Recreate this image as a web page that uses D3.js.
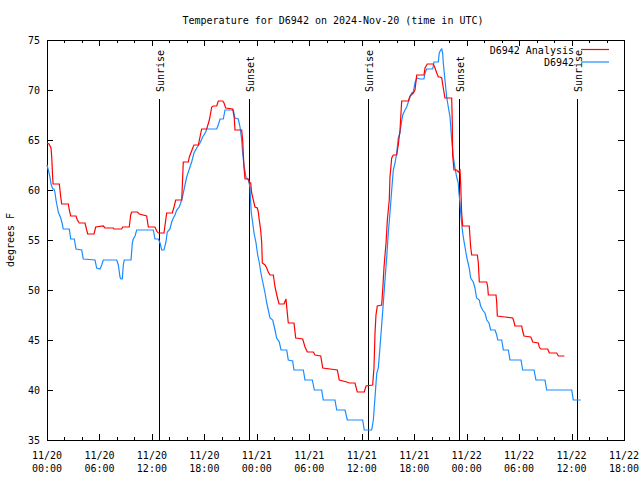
<!DOCTYPE html>
<html>
<head>
<meta charset="utf-8">
<script src="https://cdn.jsdelivr.net/npm/d3@7"></script>
<style>
  html, body { margin: 0; padding: 0; background: #fff; }
  svg { display: block; }
  text { font-family: "DejaVu Sans Mono", "Liberation Mono", monospace; font-size: 10px; fill: #000; }
</style>
</head>
<body>
<svg id="chart" width="640" height="480"></svg>
<script>
// ---- DATA (hours since 2024-11-20 00:00 UTC, temperature in °F) ----
const titleText = "Temperature for D6942 on 2024-Nov-20 (time in UTC)";
const yLabel = "degrees F";
const seriesNames = ["D6942 Analysis", "D6942"];
const yTicks = [35, 40, 45, 50, 55, 60, 65, 70, 75];

const analysisHours = [0,0.23,0.46,0.54,0.65,0.7,1.41,1.57,1.68,2.44,2.55,2.71,3.32,3.47,3.69,4.35,4.54,4.66,5.38,5.57,6.44,6.63,7.58,7.66,8.54,8.66,9.41,9.57,9.69,10.33,10.56,11.40,11.59,12.35,12.55,12.73,13.38,13.58,13.69,14.33,14.53,14.72,15.41,15.59,16.16,16.28,16.67,16.81,17.31,17.50,17.69,18.27,18.57,18.84,19.02,19.41,19.59,20.10,20.25,20.44,21.24,21.42,21.50,22.27,22.38,22.53,22.65,23.03,23.14,23.30,23.41,23.60,23.79,24.06,24.17,24.28,24.44,24.56,24.63,24.94,25.13,25.31,25.51,25.89,26.08,26.34,26.54,27.11,27.34,27.42,27.60,28.25,28.45,29.25,29.51,29.78,30.46,30.66,31.31,31.54,33.21,33.43,34.28,34.58,35.23,35.49,36.29,36.49,37.25,37.40,37.52,37.63,37.78,38.28,38.40,38.55,38.78,38.93,39.15,39.23,39.43,39.61,40.00,40.18,40.38,40.57,41.33,41.52,41.90,42.09,42.29,43.12,43.24,43.50,44.19,44.38,44.58,44.76,44.95,45.15,45.33,45.52,46.29,46.36,46.40,46.55,46.86,47.04,47.24,47.32,47.43,47.55,48.30,48.46,48.58,49.22,49.33,49.45,50.30,50.41,50.48,51.36,51.44,51.51,52.39,53.27,53.42,53.53,54.30,54.41,54.56,55.33,55.44,55.56,56.20,56.31,56.47,57.27,57.46,58.30,58.49,59.18];
const analysisTemps = [64.7,64.6,64.2,63.3,61.2,60.6,60.6,59.3,58.6,58.6,58.0,57.4,57.4,57.0,56.7,56.7,56.0,55.6,55.6,56.3,56.4,56.2,56.2,56.1,56.1,56.3,56.3,57.5,57.8,57.8,57.6,57.4,56.3,56.3,55.9,55.7,55.7,57.0,57.7,57.7,58.3,59.0,59.0,62.8,62.8,63.3,64.2,64.5,64.5,65.3,66.1,66.1,67.0,68.3,68.4,68.4,68.9,68.9,68.7,68.2,68.1,67.2,66.0,66.0,65.0,62.3,61.1,61.1,60.8,60.7,59.7,59.0,58.3,58.2,57.8,57.0,56.0,54.7,52.7,52.5,52.2,51.8,51.5,51.5,50.3,49.3,48.6,48.6,49.1,48.3,46.7,46.7,45.2,45.1,44.3,43.8,43.8,43.5,43.4,42.2,42.0,41.0,40.8,40.7,40.7,39.8,39.8,40.4,40.5,42.2,45.7,47.5,48.4,48.5,50.0,52.3,54.7,57.0,59.0,61.3,63.2,63.5,63.5,64.5,66.0,68.9,68.9,69.4,69.7,70.0,71.5,71.5,72.2,72.6,72.6,72.2,71.7,71.3,71.3,71.2,70.2,69.2,69.2,66.7,63.5,62.0,62.0,61.8,62.0,60.6,57.7,56.4,56.4,54.3,53.5,53.5,52.8,50.8,50.8,50.3,49.5,49.5,48.8,47.4,47.3,47.2,46.8,46.4,46.4,45.9,45.4,45.3,45.1,44.8,44.7,44.3,44.1,44.1,43.7,43.7,43.4,43.4];

const obsHours = [0,0.15,0.34,0.46,0.65,0.80,0.92,1.03,1.18,1.29,1.57,1.72,1.86,2.55,2.71,3.12,3.32,3.97,4.15,5.49,5.68,6.06,6.26,6.44,7.97,8.16,8.35,8.46,8.61,8.73,8.84,9.61,9.76,9.87,10.07,10.26,12.16,12.35,12.73,12.93,13.12,13.38,13.61,13.76,14.07,14.26,14.45,14.64,14.84,15.13,15.41,15.59,15.98,16.28,16.55,16.81,17.12,17.50,17.81,18.15,18.27,19.41,19.59,19.79,20.17,20.36,21.31,21.50,21.88,22.08,22.27,22.38,22.53,22.76,23.03,23.22,23.30,23.37,23.53,23.68,23.91,24.10,24.29,24.45,24.56,24.75,24.94,25.13,25.31,25.51,25.82,26.08,26.27,26.57,26.77,27.42,27.60,28.10,28.25,29.32,29.51,30.35,30.58,31.42,31.60,32.94,33.14,34.09,34.35,36.11,36.29,37.14,37.33,37.52,37.72,37.90,38.09,38.28,38.47,38.66,38.86,39.04,39.23,39.43,39.61,39.81,40.00,40.18,40.38,40.46,40.69,40.95,41.14,41.33,41.52,41.72,41.90,42.09,42.29,42.67,43.12,43.24,43.43,44.12,44.27,44.76,44.87,45.03,45.15,45.26,45.33,45.52,45.72,45.90,46.10,46.29,46.48,46.67,46.86,47.04,47.12,47.24,47.32,47.43,47.55,47.73,47.93,48.08,48.30,48.46,48.76,48.95,49.14,49.45,49.60,49.83,50.10,50.30,50.56,50.75,51.25,51.44,51.56,52.01,52.20,52.77,52.96,54.22,54.41,55.71,55.93,56.96,57.16,60.02,60.20,61.05];
const obsTemps = [62.5,62.0,61.3,60.6,60.1,60.1,59.7,59.0,58.3,57.8,57.2,56.7,56.1,56.1,55.1,55.1,54.1,54.0,53.1,53.0,52.2,52.1,52.5,53.0,53.0,52.5,51.3,51.1,51.1,52.5,53.0,53.0,54.7,55.1,55.4,56.0,56.0,55.1,55.1,54.7,54.0,54.0,54.8,55.8,56.1,56.8,57.2,57.5,58.0,58.3,59.0,59.7,61.3,62.1,62.8,63.7,64.2,64.7,65.3,65.8,66.1,66.1,66.5,67.1,67.1,68.0,68.0,67.2,67.1,66.3,65.0,63.7,62.5,61.3,61.0,60.3,58.7,57.7,56.7,55.7,54.7,53.5,52.7,51.8,51.3,50.5,49.7,48.7,48.0,47.2,47.0,46.0,45.2,44.8,44.0,44.0,43.0,42.9,42.0,42.0,41.0,41.0,40.0,40.0,39.0,39.0,38.0,38.0,37.0,37.0,36.0,36.0,37.0,39.3,41.7,42.2,44.3,46.5,48.7,51.0,53.3,55.7,57.7,60.0,62.0,62.7,63.7,65.2,65.7,66.3,67.5,68.0,68.3,68.8,69.3,69.7,69.8,70.7,71.2,71.1,71.1,71.7,72.1,72.1,72.8,72.8,73.7,74.0,74.1,73.7,72.7,71.0,69.3,68.3,67.3,65.0,63.3,62.2,61.3,60.7,59.7,58.7,57.7,56.7,55.7,54.7,53.7,53.0,52.2,51.2,50.8,50.2,49.2,49.0,48.4,48.0,47.7,47.0,46.7,46.0,46.0,45.5,45.0,45.0,44.0,44.0,43.0,43.0,42.0,42.0,41.0,41.0,40.0,40.0,39.0,39.0];

const sunLabels = ["Sunrise", "Sunset", "Sunrise", "Sunset", "Sunrise"];
const sunHours = [12.85, 23.14, 36.75, 47.09, 60.66];

// ---- CHART ----
const start = Date.UTC(2024, 10, 20, 0, 0);
const toDate = h => new Date(start + h * 3600e3);
const margin = { left: 47, right: 624, top: 40, bottom: 440 };
const svg = d3.select("#chart");

const x = d3.scaleUtc().domain([toDate(0), toDate(66)]).range([margin.left, margin.right]);
const y = d3.scaleLinear().domain([35, 75]).range([margin.bottom, margin.top]);

// title
svg.append("text").attr("x", 333).attr("y", 24).attr("text-anchor", "middle").text(titleText);

// y label
svg.append("text").attr("transform", "translate(14,240) rotate(-90)").attr("text-anchor", "middle").text(yLabel);

const g = svg.append("g").attr("shape-rendering", "crispEdges");

// ticks
const majorTicks = x.ticks(d3.utcHour.every(6));
const minorTicks = d3.utcHour.every(2).range(toDate(0), toDate(66.01)).filter(d => d.getUTCHours() % 6 !== 0);

function tickLines(vals, len) {
  vals.forEach(d => {
    const xx = Math.round(x(d)) + 0.5;
    g.append("line").attr("x1", xx).attr("x2", xx).attr("y1", margin.bottom).attr("y2", margin.bottom - len).attr("stroke", "#000");
    g.append("line").attr("x1", xx).attr("x2", xx).attr("y1", margin.top).attr("y2", margin.top + len).attr("stroke", "#000");
  });
}
tickLines(majorTicks, 6);
tickLines(minorTicks, 3);

yTicks.forEach(v => {
  const yy = Math.round(y(v)) + 0.5;
  g.append("line").attr("x1", margin.left).attr("x2", margin.left + 6).attr("y1", yy).attr("y2", yy).attr("stroke", "#000");
  g.append("line").attr("x1", margin.right).attr("x2", margin.right - 6).attr("y1", yy).attr("y2", yy).attr("stroke", "#000");
  svg.append("text").attr("x", 40).attr("y", y(v) + 4).attr("text-anchor", "end").text(v);
});

const fmtDate = d3.utcFormat("%m/%d");
const fmtTime = d3.utcFormat("%H:%M");
majorTicks.forEach(d => {
  const t = svg.append("text").attr("text-anchor", "middle");
  t.append("tspan").attr("x", x(d)).attr("y", 459).text(fmtDate(d));
  t.append("tspan").attr("x", x(d)).attr("y", 472).text(fmtTime(d));
});

// sunrise / sunset lines
sunHours.forEach((h, i) => {
  const xx = Math.round(x(toDate(h))) + 0.5;
  g.append("line").attr("x1", xx).attr("x2", xx).attr("y1", 99).attr("y2", margin.bottom).attr("stroke", "#000");
  svg.append("text").attr("transform", `translate(${xx + 4},92) rotate(-90)`).attr("text-anchor", "start").text(sunLabels[i]);
});

// series
const line = d3.line().x(d => x(toDate(d[0]))).y(d => y(d[1]));
const redData = d3.zip(analysisHours, analysisTemps);
const blueData = d3.zip(obsHours, obsTemps);
const colors = ["#ff0000", "#1a8cff"];

svg.append("path").datum(blueData).attr("d", line).attr("fill", "none").attr("stroke", colors[1]).attr("stroke-width", 1.2);
svg.append("path").datum(redData).attr("d", line).attr("fill", "none").attr("stroke", colors[0]).attr("stroke-width", 1.2);

// frame
g.append("rect").attr("x", margin.left + 0.5).attr("y", margin.top + 0.5)
  .attr("width", margin.right - margin.left).attr("height", margin.bottom - margin.top)
  .attr("fill", "none").attr("stroke", "#000");

// legend
seriesNames.forEach((name, i) => {
  const ly = 49.5 + i * 12.5;
  svg.append("text").attr("x", 574).attr("y", ly + 4).attr("text-anchor", "end").text(name);
  svg.append("line").attr("x1", 581).attr("x2", 609).attr("y1", ly).attr("y2", ly).attr("stroke", colors[i]).attr("stroke-width", 1.2);
});
</script>
</body>
</html>
